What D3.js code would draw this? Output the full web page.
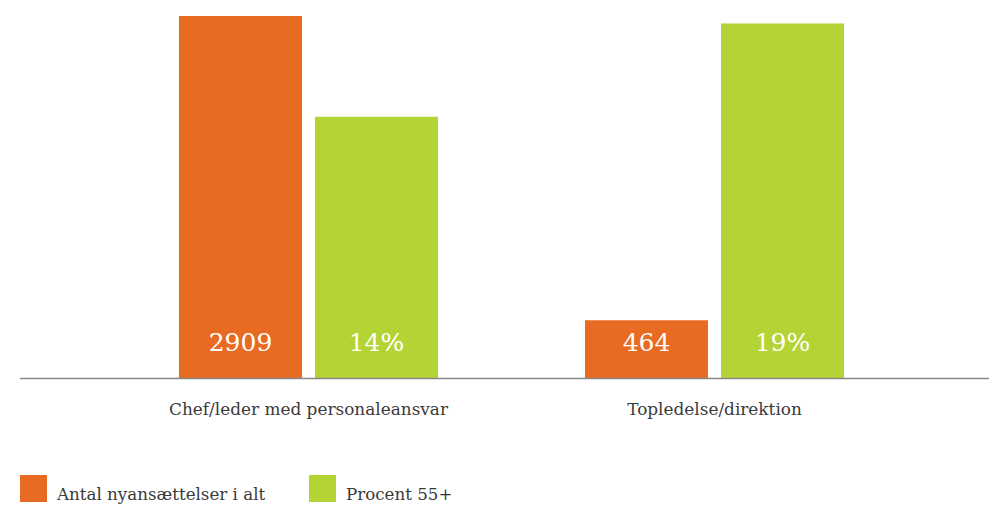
<!DOCTYPE html>
<html>
<head>
<meta charset="utf-8">
<script src="https://cdn.jsdelivr.net/npm/d3@7"></script>
<style>
  body { margin: 0; background: #fff; }
  text { font-family: "DejaVu Serif", serif; }
</style>
</head>
<body>
<div class="chart"></div>
<script>
const width = 989, height = 506;

// data
const categories = ["Chef/leder med personaleansvar", "Topledelse/direktion"];
const seriesNames = ["Antal nyansættelser i alt", "Procent 55+"];
const antal = [2909, 464];
const procent = [14, 19];
const colors = ["#e86b21", "#b4d334"];

const baseY = 378;

const svg = d3.select(".chart").append("svg")
  .attr("width", width)
  .attr("height", height);

const x0 = d3.scaleBand()
  .domain(categories)
  .range([105.5, 917.5])
  .paddingInner(0.362)
  .paddingOuter(0.181);

const x1 = d3.scaleBand()
  .domain(seriesNames)
  .range([0, x0.bandwidth()])
  .paddingInner(0.0956);

// two hidden value axes, one per series
const yAntal = d3.scaleLinear()
  .domain([0, d3.max(antal)])
  .range([baseY, 16]);
const yProcent = d3.scaleLinear()
  .domain([0, 19.4])
  .range([baseY, 16]);

const rows = [];
categories.forEach((c, i) => {
  rows.push({ cat: c, series: seriesNames[0], y: yAntal(antal[i]), label: String(antal[i]), color: colors[0] });
  rows.push({ cat: c, series: seriesNames[1], y: yProcent(procent[i]), label: procent[i] + "%", color: colors[1] });
});

const bars = svg.append("g");
bars.selectAll("rect")
  .data(rows)
  .join("rect")
  .attr("x", d => x0(d.cat) + x1(d.series))
  .attr("y", d => d.y)
  .attr("width", x1.bandwidth())
  .attr("height", d => baseY - d.y)
  .attr("fill", d => d.color);

bars.selectAll("text")
  .data(rows)
  .join("text")
  .attr("x", d => x0(d.cat) + x1(d.series) + x1.bandwidth() / 2)
  .attr("y", 351)
  .attr("text-anchor", "middle")
  .attr("fill", "#fff")
  .attr("font-size", 25)
  .text(d => d.label);

// baseline
svg.append("line")
  .attr("x1", 20)
  .attr("x2", width)
  .attr("y1", baseY + 0.5)
  .attr("y2", baseY + 0.5)
  .attr("stroke", "#888")
  .attr("stroke-width", 1.5);

// category labels
const xAxis = d3.axisBottom(x0).tickSize(0).tickPadding(0);
const gx = svg.append("g")
  .attr("transform", `translate(0,${baseY})`)
  .call(xAxis);
gx.select(".domain").remove();
gx.selectAll("text")
  .attr("dy", null)
  .attr("y", 37)
  .attr("font-size", 16.9)
  .attr("font-family", "DejaVu Serif, serif")
  .attr("fill", "#3a3a3a");

// legend
const legendX = [20, 309];
const legend = svg.append("g")
  .selectAll("g")
  .data(seriesNames)
  .join("g")
  .attr("transform", (d, i) => `translate(${legendX[i]},475)`);
legend.append("rect")
  .attr("width", 27)
  .attr("height", 27)
  .attr("fill", (d, i) => colors[i]);
legend.append("text")
  .attr("x", 37)
  .attr("y", 25)
  .attr("font-size", 16.7)
  .attr("fill", "#3a3a3a")
  .text(d => d);
</script>
</body>
</html>
